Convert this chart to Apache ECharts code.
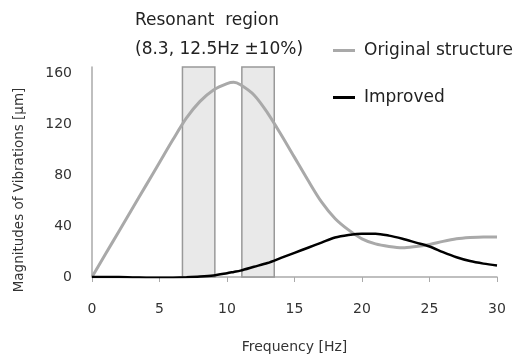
<!DOCTYPE html>
<html><head><meta charset="utf-8">
<script src="https://cdn.jsdelivr.net/npm/echarts@6/dist/echarts.min.js"></script>
<style>html,body{margin:0;padding:0;background:#fff}#c{width:521px;height:357px}</style>
</head><body><div id="c"></div>
<script>
const freq = [0,1,2,3,4,5,6,7,8,9,10,10.5,11,12,13,14,15,16,17,18,19,20,21,22,23,24,25,26,27,28,29,30];
const original = [0,18,36,54,72,90,108,125,138,147,152,153,151,143,129,112,94,76,59,46,37,30,26,24,23,24,25.5,28,30,31,31.5,31.5];
const improved = [0,0,0,-0.3,-0.5,-0.6,-0.5,-0.2,0.3,1.2,3,4,5,8,11,15,19,23,27,31,33,34,34,32.5,30,27,24,19.5,15.5,12.5,10.5,9];
const resonantBands = [[6.7,9.1],[11.1,13.5]];
const xTicks = [0,5,10,15,20,25,30];
const yTicks = [0,40,80,120,160];

const pair = (xs, ys) => xs.map((x,i)=>[x,ys[i]]);
const chart = echarts.init(document.getElementById('c'), null, {renderer:'canvas'});
chart.setOption({
  animation:false,
  backgroundColor:'#fff',
  title:[
    {text:'Resonant  region', left:135, top:12, padding:0, textStyle:{fontFamily:'DejaVu Sans', fontSize:17, fontWeight:'normal', color:'#222'}},
    {text:'(8.3, 12.5Hz \u00b110%)', left:135, top:41, padding:0, textStyle:{fontFamily:'DejaVu Sans', fontSize:17, fontWeight:'normal', color:'#222'}}
  ],
  legend:{
    orient:'vertical', left:333, top:42, padding:0, itemGap:30, itemWidth:22, itemHeight:3, icon:'rect',
    textStyle:{fontFamily:'DejaVu Sans', fontSize:17, color:'#222', padding:[0,0,0,4]},
    data:['Original structure','Improved']
  },
  grid:{left:92, right:24, top:67, bottom:80, outerBoundsMode:'none', containLabel:false},
  xAxis:{
    type:'value', min:0, max:30, interval:5,
    name:'Frequency [Hz]', nameLocation:'middle', nameGap:63,
    nameTextStyle:{fontFamily:'DejaVu Sans', fontSize:14, color:'#333'},
    axisLine:{lineStyle:{color:'#aaa', width:1.5}},
    axisTick:{show:true, length:5, lineStyle:{color:'#aaa'}},
    axisLabel:{fontFamily:'DejaVu Sans', fontSize:14, color:'#333', margin:25},
    splitLine:{show:false}
  },
  yAxis:{
    type:'value', min:0, max:165, interval:40,
    name:'Magnitudes of Vibrations [\u03bcm]', nameLocation:'middle', nameGap:66, nameRotate:90,
    nameTextStyle:{fontFamily:'DejaVu Sans', fontSize:13.5, color:'#333', padding:[0,36,0,0]},
    axisLine:{show:true, lineStyle:{color:'#aaa', width:1.5}},
    axisTick:{show:false},
    axisLabel:{fontFamily:'DejaVu Sans', fontSize:14, color:'#333', margin:20, showMaxLabel:false,
      formatter:v=> yTicks.includes(v)? String(v):''},
    splitLine:{show:false}
  },
  series:[
    {name:'Original structure', type:'line', data:pair(freq,original), smooth:0.3, symbol:'none',
     lineStyle:{color:'#a9a9a9', width:3}, itemStyle:{color:'#a9a9a9'}, z:2},
    {name:'Improved', type:'line', data:pair(freq,improved), smooth:0.3, symbol:'none',
     lineStyle:{color:'#000', width:2.5}, itemStyle:{color:'#000'}, z:2},
    {name:'bands', type:'line', data:[], z:5,
     markArea:{silent:true,
       itemStyle:{color:'rgba(215,215,215,0.55)', borderColor:'#999', borderWidth:1.5},
       data: resonantBands.map(b=>[{xAxis:b[0]},{xAxis:b[1]}])}
    }
  ]
});
</script></body></html>
